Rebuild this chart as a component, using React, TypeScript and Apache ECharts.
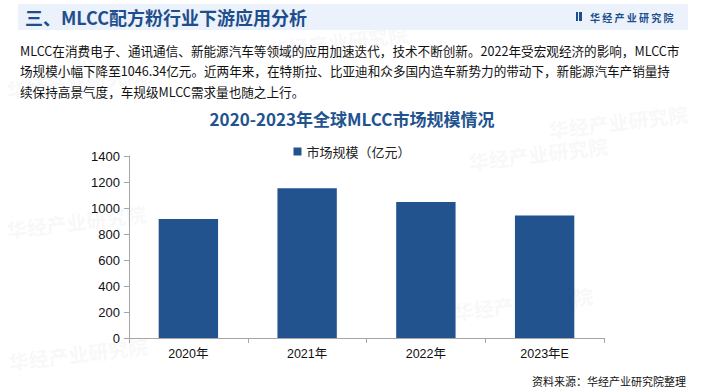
import React, { useEffect, useRef } from "react";
import * as echarts from "echarts";

const categories = ["2020年", "2021年", "2022年", "2023年E"];
const marketSize = [915, 1152, 1046.34, 943];
const seriesName = "市场规模（亿元）";
const yTicks = { min: 0, max: 1400, interval: 200 };

const headerTitle = "三、MLCC配方粉行业下游应用分析";
const brand = "华经产业研究院";
const paragraphLines = [
  "MLCC在消费电子、通讯通信、新能源汽车等领域的应用加速迭代，技术不断创新。2022年受宏观经济的影响，MLCC市",
  "场规模小幅下降至1046.34亿元。近两年来，在特斯拉、比亚迪和众多国内造车新势力的带动下，新能源汽车产销量持",
  "续保持高景气度，车规级MLCC需求量也随之上行。",
];
const chartTitle = "2020-2023年全球MLCC市场规模情况";
const sourceText = "资料来源：华经产业研究院整理";

const watermarkSpots = [
  [470, 172],
  [8, 240],
  [455, 322],
  [10, 372],
  [550, 140],
  [270, 60],
  [8, 100],
];

export default function App() {
  const ref = useRef<HTMLDivElement>(null);
  useEffect(() => {
    if (!ref.current) return;
    const chart = echarts.init(ref.current, null, { renderer: "svg" });
    const cjk = "'Noto Sans CJK SC', 'Noto Sans', sans-serif";
    const watermarks = watermarkSpots.map(([x, y]) => ({
      type: "text",
      x,
      y,
      rotation: 0.12,
      z: 0,
      silent: true,
      style: {
        text: brand,
        fill: "rgba(200,205,214,0.14)",
        font: `bold 20px ${cjk}`,
        textVerticalAlign: "bottom",
      },
    }));
    chart.setOption({
      animation: false,
      backgroundColor: "#ffffff",
      textStyle: { fontFamily: cjk },
      grid: { left: 129, right: 100, top: 156, bottom: 54, containLabel: false },
      legend: {
        data: [seriesName],
        top: 140,
        left: "center",
        itemWidth: 8,
        itemHeight: 8,
        icon: "rect",
        itemGap: 4,
        textStyle: { fontSize: 13, color: "#222", fontFamily: cjk },
      },
      xAxis: {
        type: "category",
        data: categories,
        axisLine: { lineStyle: { color: "#a6a6a6" } },
        axisTick: { show: true, alignWithLabel: false, length: 5, lineStyle: { color: "#a6a6a6" } },
        axisLabel: { color: "#111", fontSize: 12.5, margin: 10, fontFamily: "'Liberation Sans', Arial, " + cjk },
      },
      yAxis: {
        type: "value",
        min: yTicks.min,
        max: yTicks.max,
        interval: yTicks.interval,
        splitLine: { show: false },
        axisLine: { show: true, lineStyle: { color: "#a6a6a6" } },
        axisTick: { show: true, length: 5, lineStyle: { color: "#a6a6a6" } },
        axisLabel: {
          color: "#111",
          fontSize: 13,
          margin: 9,
          fontFamily: "'Liberation Sans', Arial, sans-serif",
          formatter: (v: number) => String(v),
        },
      },
      series: [
        {
          name: seriesName,
          type: "bar",
          data: marketSize,
          barWidth: "50%",
          itemStyle: { color: "#22538f" },
          z: 5,
        },
      ],
      graphic: [
        ...watermarks,
        {
          type: "rect",
          z: 1,
          shape: { x: 18, y: 4, width: 670, height: 26 },
          style: { fill: "rgba(234,241,251,0.9)" },
        },
        {
          type: "text",
          z: 2,
          x: 25,
          y: 17,
          style: {
            text: headerTitle,
            fill: "#1f4e8c",
            font: `bold 18px ${cjk}`,
            textVerticalAlign: "middle",
          },
        },
        {
          type: "rect",
          z: 2,
          shape: { x: 576, y: 12, width: 2, height: 9 },
          style: { fill: "#1f4e8c" },
        },
        {
          type: "rect",
          z: 2,
          shape: { x: 579, y: 12, width: 3, height: 9 },
          style: { fill: "#1f4e8c" },
        },
        {
          type: "text",
          z: 2,
          x: 590,
          y: 17,
          style: {
            text: brand.split("").join(" "),
            fill: "#1f4e8c",
            font: `bold 10px ${cjk}`,
            textVerticalAlign: "middle",
          },
        },
        ...paragraphLines.map((line, i) => ({
          type: "text",
          z: 3,
          x: 20,
          y: 50 + i * 20.5,
          style: {
            text: line,
            fill: "#111",
            font: `12.6px ${cjk}`,
            textVerticalAlign: "middle",
          },
        })),
        {
          type: "text",
          z: 3,
          x: 352,
          y: 118,
          style: {
            text: chartTitle,
            fill: "#22538f",
            font: `bold 17px ${cjk}`,
            textAlign: "center",
            textVerticalAlign: "middle",
          },
        },
        {
          type: "text",
          z: 3,
          x: 686,
          y: 381,
          style: {
            text: sourceText,
            fill: "#111",
            font: `11px ${cjk}`,
            textAlign: "right",
            textVerticalAlign: "middle",
          },
        },
      ],
    });
    return () => chart.dispose();
  }, []);
  return <div ref={ref} style={{ width: 704, height: 392, position: "fixed", left: 0, top: 0 }} />;
}
